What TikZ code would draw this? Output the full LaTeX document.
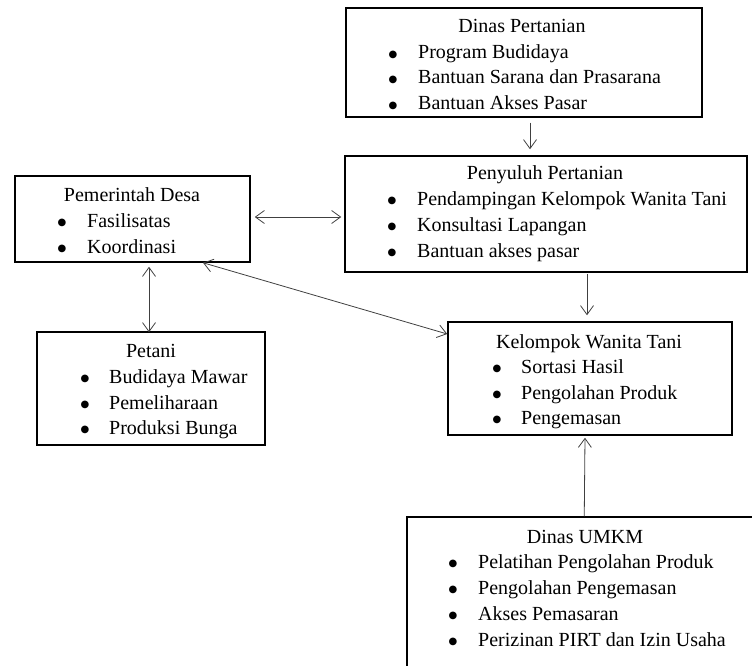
\documentclass[tikz,border=0pt]{standalone}
\usepackage{fontspec}
\setmainfont{Liberation Serif}
\newfontfamily\bulfont{DejaVu Sans}
\usetikzlibrary{arrows.meta}
\tikzset{
  box/.style={draw=black, line width=1.5pt, inner sep=0pt, fill=none},
  ttl/.style={anchor=base, inner sep=0pt, font=\fontsize{20}{24}\selectfont},
  itm/.style={anchor=base west, inner sep=0pt, font=\fontsize{20}{24}\selectfont},
  bul/.style={anchor=base, inner sep=0pt, font=\bulfont\fontsize{10}{12}\selectfont},
  arr/.style={draw=black!75, line width=0.8pt, -{Straight Barb[length=9pt,width=13pt]}},
  darr/.style={draw=black!75, line width=0.8pt, {Straight Barb[length=9pt,width=13pt]}-{Straight Barb[length=9pt,width=13pt]}}
}
\newcommand{\bl}{\raisebox{1.5pt}{●}}
\begin{document}
\begin{tikzpicture}[x=1pt,y=-1pt]
\useasboundingbox (0,0) rectangle (752,666);
\clip (0,0) rectangle (752,666);
% boxes
\node[box, minimum width=356pt, minimum height=109pt] (dp) at (524,62.5) {};
\node[box, minimum width=402pt, minimum height=116pt] (pp) at (546,214) {};
\node[box, minimum width=235pt, minimum height=86pt] (pd) at (132.5,219) {};
\node[box, minimum width=228pt, minimum height=113pt] (pt) at (151,388.5) {};
\node[box, minimum width=284pt, minimum height=113pt] (kw) at (590,378.5) {};
\node[box, minimum width=380pt, minimum height=190pt] (um) at (597,612) {};
% Dinas Pertanian
\node[ttl] (dpT) at (522,33) {Dinas Pertanian};
\node[bul] (dpB1) at (393,59) {\bl};
\node[itm] (dp1) at (418,59) {Program Budidaya};
\node[bul] (dpB2) at (393,84) {\bl};
\node[itm] (dp2) at (418,84) {Bantuan Sarana dan Prasarana};
\node[bul] (dpB3) at (393,110) {\bl};
\node[itm] (dp3) at (418,110) {Bantuan Akses Pasar};
% Penyuluh Pertanian
\node[ttl] (ppT) at (545,179) {Penyuluh Pertanian};
\node[bul] (ppB1) at (392,205) {\bl};
\node[itm] (pp1) at (417,205) {Pendampingan Kelompok Wanita Tani};
\node[bul] (ppB2) at (392,231) {\bl};
\node[itm] (pp2) at (417,231) {Konsultasi Lapangan};
\node[bul] (ppB3) at (392,257) {\bl};
\node[itm] (pp3) at (417,257) {Bantuan akses pasar};
% Pemerintah Desa
\node[ttl] (pdT) at (132,201) {Pemerintah Desa};
\node[bul] (pdB1) at (62,227) {\bl};
\node[itm] (pd1) at (87,227) {Fasilisatas};
\node[bul] (pdB2) at (62,253) {\bl};
\node[itm] (pd2) at (87,253) {Koordinasi};
% Petani
\node[ttl] (ptT) at (151,357) {Petani};
\node[bul] (ptB1) at (85,383) {\bl};
\node[itm] (pt1) at (109,383) {Budidaya Mawar};
\node[bul] (ptB2) at (85,409) {\bl};
\node[itm] (pt2) at (109,409) {Pemeliharaan};
\node[bul] (ptB3) at (85,434) {\bl};
\node[itm] (pt3) at (109,434) {Produksi Bunga};
% Kelompok Wanita Tani
\node[ttl] (kwT) at (589,348) {Kelompok Wanita Tani};
\node[bul] (kwB1) at (497,373) {\bl};
\node[itm] (kw1) at (521,373) {Sortasi Hasil};
\node[bul] (kwB2) at (497,399) {\bl};
\node[itm] (kw2) at (521,399) {Pengolahan Produk};
\node[bul] (kwB3) at (497,424) {\bl};
\node[itm] (kw3) at (521,424) {Pengemasan};
% Dinas UMKM
\node[ttl] (umT) at (585,543) {Dinas UMKM};
\node[bul] (umB1) at (453,568) {\bl};
\node[itm] (um1) at (478,568) {Pelatihan Pengolahan Produk};
\node[bul] (umB2) at (453,594) {\bl};
\node[itm] (um2) at (478,594) {Pengolahan Pengemasan};
\node[bul] (umB3) at (453,620) {\bl};
\node[itm] (um3) at (478,620) {Akses Pemasaran};
\node[bul] (umB4) at (453,646) {\bl};
\node[itm] (um4) at (478,646) {Perizinan PIRT dan Izin Usaha};
% connectors
\draw[arr] ([xshift=6pt,yshift=-5pt]dp.south) -- ([xshift=-16pt,yshift=6pt]pp.north);
\draw[darr] ([xshift=4pt,yshift=2pt]pd.east) -- ([xshift=-3pt,yshift=-3pt]pp.west);
\draw[arr] ([xshift=41pt,yshift=-1pt]pp.south) -- ([xshift=-3pt,yshift=6pt]kw.north);
\draw[darr] ([xshift=70.5pt,yshift=0pt]pd.south) -- ([xshift=0pt,yshift=44.5pt]kw.west);
\draw[darr] ([xshift=16.5pt,yshift=-4pt]pd.south) -- ([xshift=-2pt,yshift=-1pt]pt.north);
\draw[arr] ([xshift=178pt,yshift=0pt]um.north west) -- ([xshift=-5pt,yshift=-2pt]kw.south);
\end{tikzpicture}
\end{document}
